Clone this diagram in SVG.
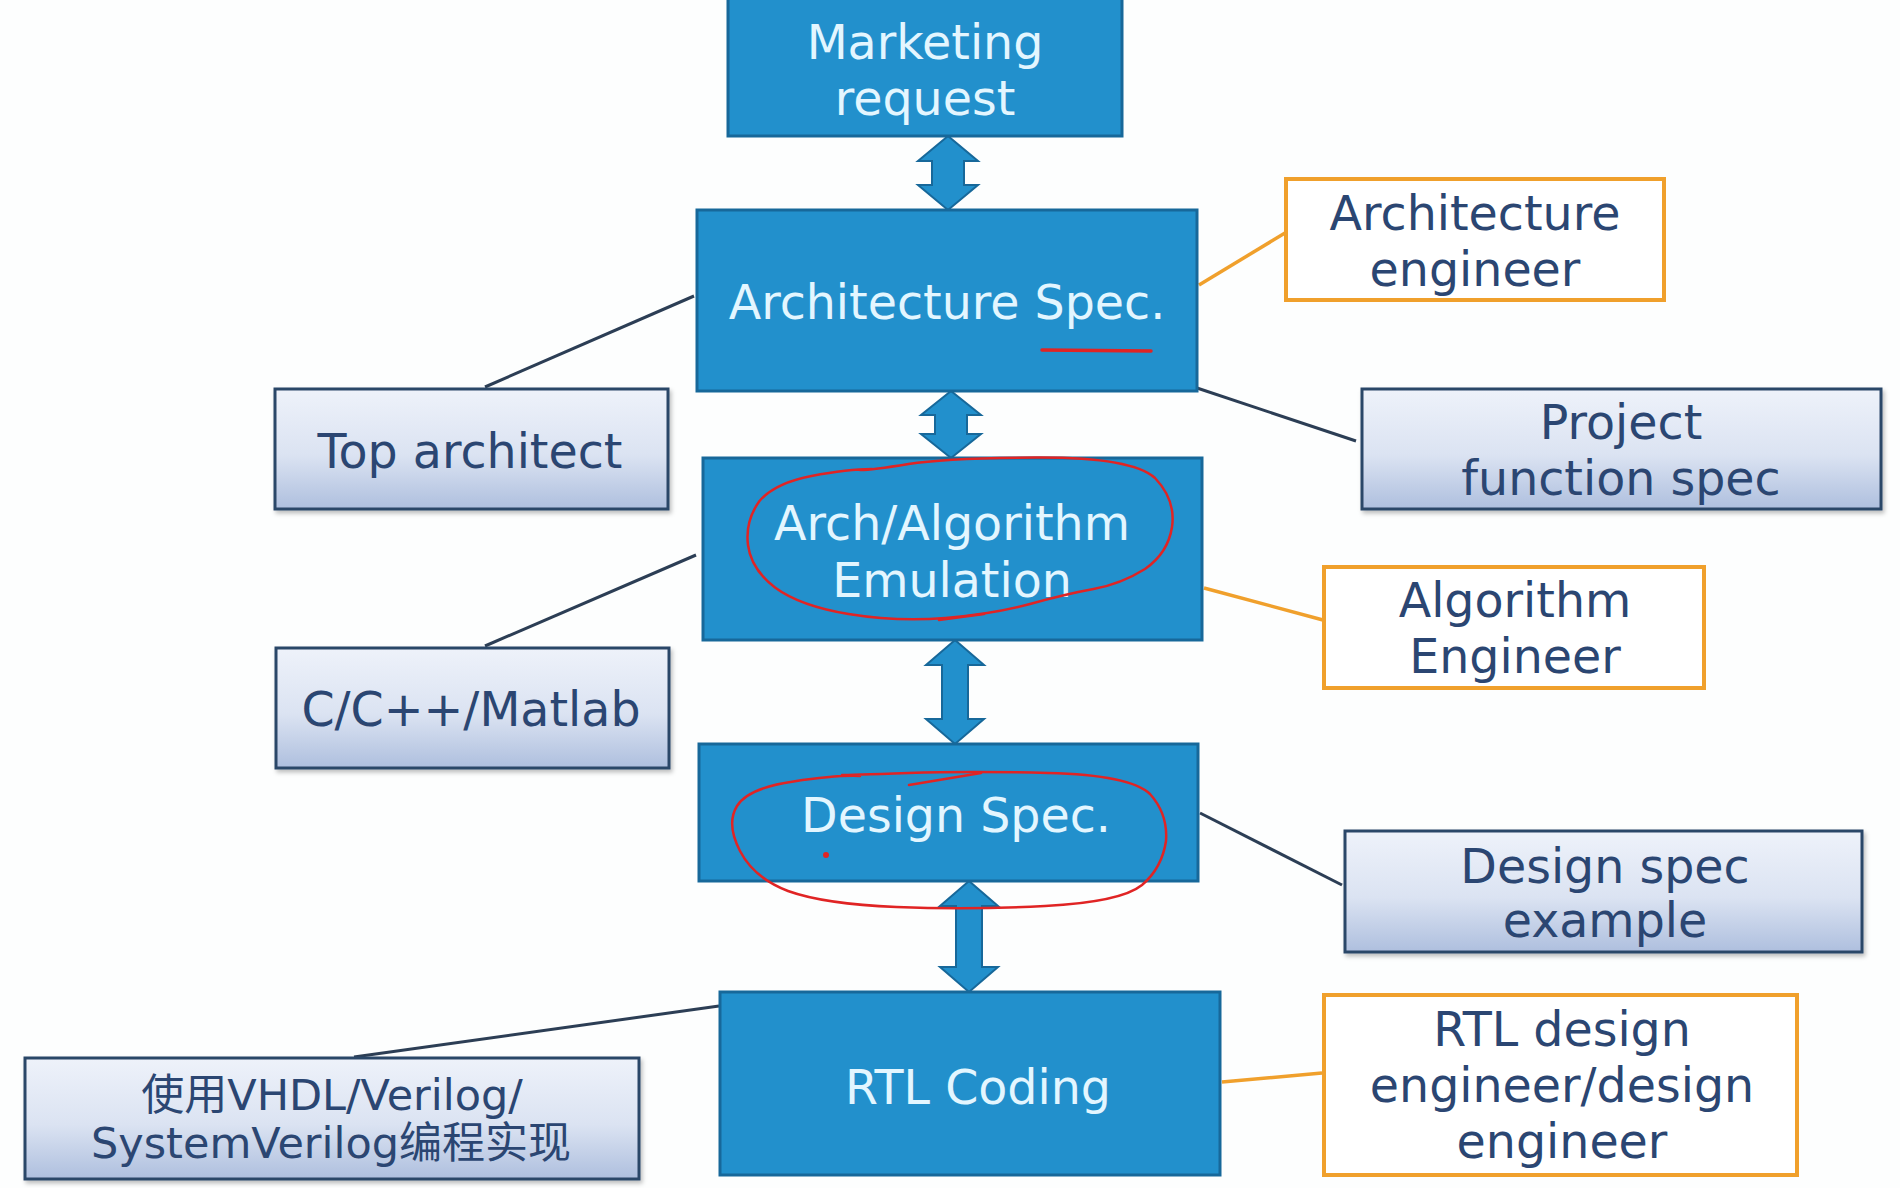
<svg xmlns="http://www.w3.org/2000/svg" width="1900" height="1188" viewBox="0 0 1900 1188">
<defs>
<linearGradient id="sideGrad" x1="0" y1="0" x2="0" y2="1">
<stop offset="0" stop-color="#eef2fa"/>
<stop offset="0.55" stop-color="#dbe3f2"/>
<stop offset="1" stop-color="#aebfde"/>
</linearGradient>
<filter id="shadow" x="-5%" y="-5%" width="110%" height="120%">
<feDropShadow dx="2" dy="3" stdDeviation="2" flood-color="#000" flood-opacity="0.25"/>
</filter>
</defs>
<style>
.main{fill:#2290cc;stroke:#17689a;stroke-width:3}
.side{fill:url(#sideGrad);stroke:#2c4668;stroke-width:3;filter:url(#shadow)}
.role{fill:#ffffff;stroke:#f0a02c;stroke-width:4}
.mt{font-family:"DejaVu Sans","Verdana",sans-serif;font-size:47.5px;fill:#e3f6ff;text-anchor:middle}
.st{font-family:"DejaVu Sans","Verdana",sans-serif;font-size:47.5px;fill:#2b4672;text-anchor:middle}
.cn{font-family:"DejaVu Sans","Noto Sans CJK SC",sans-serif;font-size:43px;fill:#2b4672;text-anchor:middle}
.arrow{fill:#2290cc;stroke:#17689a;stroke-width:2}
.dl{stroke:#2c3e55;stroke-width:3;fill:none}
.ol{stroke:#f0a02c;stroke-width:3.5;fill:none}
.red{stroke:#e02424;stroke-width:2.5;fill:none;stroke-linecap:round;stroke-linejoin:round}
</style>
<rect x="0" y="0" width="1900" height="1188" fill="#fdfefe"/>

<g id="connectors">
<path class="arrow" d="M948,136 L978,161 L964,161 L964,185 L978,185 L948,210 L918,185 L932,185 L932,161 L918,161 Z"/>
<path class="arrow" d="M951,391 L981,415 L967,415 L967,434 L981,434 L951,458 L921,434 L935,434 L935,415 L921,415 Z"/>
<path class="arrow" d="M955,640 L984,665 L968,665 L968,719 L984,719 L955,744 L926,719 L942,719 L942,665 L926,665 Z"/>
<path class="arrow" d="M969,881 L998,906 L982,906 L982,967 L998,967 L969,992 L940,967 L956,967 L956,906 L940,906 Z"/>
<line class="dl" x1="485" y1="387" x2="694" y2="296"/>
<line class="dl" x1="485" y1="646" x2="696" y2="555"/>
<line class="dl" x1="354" y1="1057" x2="719" y2="1006"/>
<line class="ol" x1="1199" y1="285" x2="1285" y2="233"/>
<line class="dl" x1="1197" y1="388" x2="1356" y2="441"/>
<line class="ol" x1="1204" y1="588" x2="1323" y2="620"/>
<line class="dl" x1="1200" y1="813" x2="1342" y2="885"/>
<line class="ol" x1="1222" y1="1082" x2="1322" y2="1073"/>
</g>

<g id="marketing">
<rect class="main" x="728" y="-2" width="394" height="138"/>
<text class="mt" x="925" y="59">Marketing</text>
<text class="mt" x="925" y="115">request</text>
</g>

<g id="arch-spec">
<rect class="main" x="697" y="210" width="500" height="181"/>
<text class="mt" x="947" y="319">Architecture Spec.</text>
</g>

<g id="arch-algo">
<rect class="main" x="703" y="458" width="499" height="182"/>
<text class="mt" x="952" y="540">Arch/Algorithm</text>
<text class="mt" x="952" y="597">Emulation</text>
</g>

<g id="design-spec">
<rect class="main" x="699" y="744" width="499" height="137"/>
<text class="mt" x="956" y="832">Design Spec.</text>
</g>

<g id="rtl-coding">
<rect class="main" x="720" y="992" width="500" height="183"/>
<text class="mt" x="978" y="1104">RTL Coding</text>
</g>

<g id="top-architect">
<rect class="side" x="275" y="389" width="393" height="120"/>
<text class="st" x="470" y="468">Top architect</text>
</g>

<g id="c-matlab">
<rect class="side" x="276" y="648" width="393" height="120"/>
<text class="st" x="471" y="726">C/C++/Matlab</text>
</g>

<g id="hdl">
<rect class="side" x="25" y="1058" width="614" height="121"/>
<text class="cn" x="332" y="1110">使用VHDL/Verilog/</text>
<text class="cn" x="331" y="1158">SystemVerilog编程实现</text>
</g>

<g id="arch-engineer">
<rect class="role" x="1286" y="179" width="378" height="121"/>
<text class="st" x="1475" y="230">Architecture</text>
<text class="st" x="1475" y="286">engineer</text>
</g>

<g id="project-spec">
<rect class="side" x="1362" y="389" width="519" height="120"/>
<text class="st" x="1621" y="439">Project</text>
<text class="st" x="1621" y="495">function spec</text>
</g>

<g id="algo-engineer">
<rect class="role" x="1324" y="567" width="380" height="121"/>
<text class="st" x="1515" y="617">Algorithm</text>
<text class="st" x="1515" y="673">Engineer</text>
</g>

<g id="design-example">
<rect class="side" x="1345" y="831" width="517" height="121"/>
<text class="st" x="1605" y="883">Design spec</text>
<text class="st" x="1605" y="937">example</text>
</g>

<g id="rtl-engineer">
<rect class="role" x="1324" y="995" width="473" height="180"/>
<text class="st" x="1562" y="1046">RTL design</text>
<text class="st" x="1562" y="1102">engineer/design</text>
<text class="st" x="1562" y="1158">engineer</text>
</g>

<g id="annotations">
<line class="red" x1="1042" y1="350" x2="1151" y2="351" style="stroke-width:3.5"/>
<path class="red" d="M860,470 Q872,470 908.5,464 Q945,458 1036,457.5 Q1132,457 1155,478 Q1176,500 1172,527 Q1168,553 1145,569 Q1121,584 1093.5,589 Q1066,594 1030,604 Q994,614 945.5,618 Q897,622 848.5,614 Q800,606 775,587.5 Q751,569 748,545 Q745,521 759.5,501 Q775,483 811.5,476 Q848,469 872,469"/>
<path class="red" d="M939,620 L984,614"/>
<path class="red" d="M842,775 Q848,775 908.5,773 Q969,771 1048,773 Q1130,775 1150,794 Q1168,814 1166,841 Q1162,868 1142,885 Q1121,902 1045,906 Q969,910 896.5,907 Q824,904 788,891 Q754,878 740,851 Q726,824 737,806 Q748,788 793.5,781.5 Q836,775 860,776"/>
<path class="red" d="M909,785 L981,773"/>
<circle cx="826" cy="855" r="3" fill="#e02424"/>
</g>
</svg>
